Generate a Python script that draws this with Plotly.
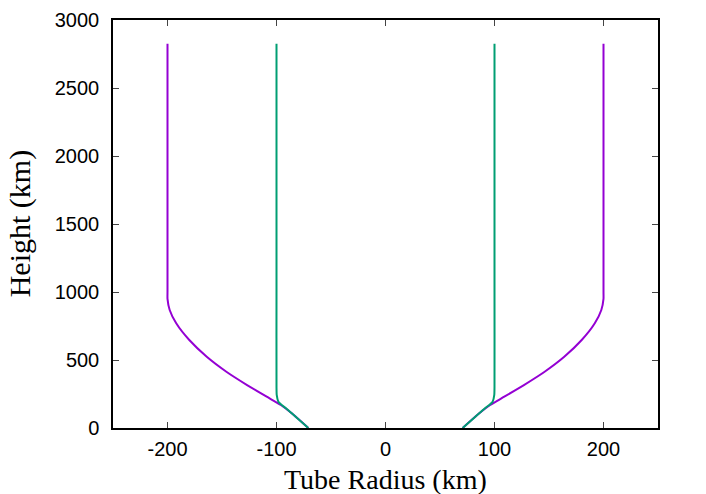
import plotly.graph_objects as go

# flux tube profiles: height (km) vs radius (km), left half mirrored
purple_h = [0, 108, 169, 230, 316, 414, 524, 647, 770, 868, 950, 1000, 1500, 2000, 2825]
purple_r = [70.8, 86, 96, 109, 127, 146, 164, 180, 192, 198, 200, 200, 200, 200, 200]

green_h = [0, 108, 147, 169, 193, 243, 300, 1000, 2000, 2825]
green_r = [70.8, 86, 91.5, 95.2, 98.3, 99.8, 100, 100, 100, 100]

x_ticks = [-200, -100, 0, 100, 200]
x_labels = ['-200', '-100', '0', '100', '200']
y_ticks = [0, 500, 1000, 1500, 2000, 2500, 3000]


def both_sides(r, h):
    xs = [-v for v in r] + [None] + list(r)
    ys = list(h) + [None] + list(h)
    return xs, ys


fig = go.Figure()
px_, py_ = both_sides(purple_r, purple_h)
fig.add_trace(go.Scatter(x=px_, y=py_, mode='lines',
                         line=dict(color='#9400D3', width=2, shape='spline', smoothing=0.5)))
gx, gy = both_sides(green_r, green_h)
fig.add_trace(go.Scatter(x=gx, y=gy, mode='lines',
                         line=dict(color='#009E73', width=2, shape='spline', smoothing=0.5)))

axis_common = dict(showgrid=False, zeroline=False, showline=True, linecolor='black', linewidth=1.5,
                   mirror='ticks', ticks='inside', ticklen=6, tickcolor='#444', tickwidth=1,
                   tickfont=dict(family='Liberation Sans, Arial', size=20, color='black'))

fig.update_xaxes(range=[-250, 250], tickvals=x_ticks, ticktext=x_labels, ticklabelstandoff=2, **axis_common)
fig.update_yaxes(range=[0, 3000], tickvals=y_ticks, ticklabelstandoff=8, **axis_common)

# axis titles as annotations so they sit where the original puts them
serif = 'Liberation Serif, Times New Roman'
fig.add_annotation(text='Tube Radius (km)', xref='paper', yref='paper', x=0.5, y=-0.127,
                   xanchor='center', yanchor='middle', showarrow=False,
                   font=dict(family=serif, size=28, color='black'))
fig.add_annotation(text='Height (km)', xref='paper', yref='paper', x=-0.17, y=0.5,
                   xanchor='center', yanchor='middle', textangle=-90, showarrow=False,
                   font=dict(family=serif, size=30, color='black'))

fig.update_layout(width=706, height=494, showlegend=False,
                  plot_bgcolor='white', paper_bgcolor='white',
                  margin=dict(l=113, r=48, t=20, b=66, autoexpand=False))

# drop the default 8px body margin so the figure fills the window
fig.write_html("out.html", config={'displayModeBar': False},
               post_script="document.body.style.margin='0';")
